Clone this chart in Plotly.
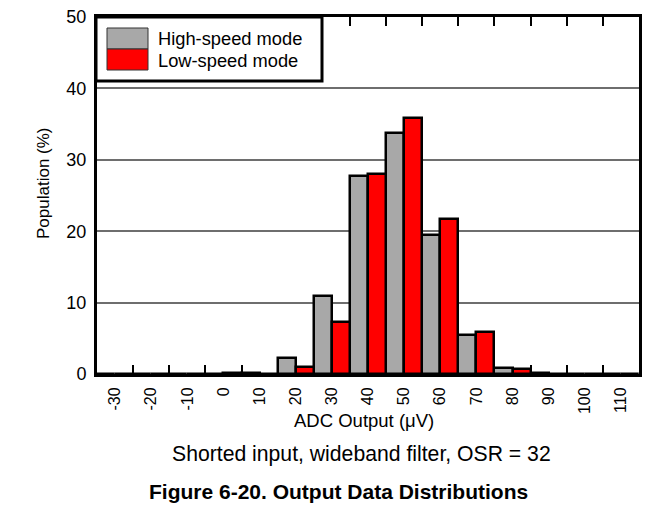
import plotly.graph_objects as go

categories = ["-30", "-20", "-10", "0", "10", "20", "30", "40", "50", "60", "70", "80", "90", "100", "110"]
high_speed = [0, 0, 0, 0, 0.2, 2.2, 10.9, 27.8, 33.8, 19.5, 5.4, 0.8, 0.1, 0, 0]
low_speed = [0, 0, 0, 0.1, 0, 1.0, 7.3, 28.0, 35.8, 21.7, 5.9, 0.7, 0, 0, 0]
y_ticks = [0, 10, 20, 30, 40, 50]

FONT = "Liberation Sans, Arial, sans-serif"
OFF = 8  # page body margin in the browser
W, H = 661 - OFF, 507 - OFF
# plot area in reference (window) pixels
L, R, T, B = 97, 639, 17, 374


def px(x):
    return (x - L) / (R - L)


def py(y):
    return (B - y) / (B - T)


fig = go.Figure()
fig.add_trace(go.Bar(x=categories, y=high_speed, name="High-speed mode",
                     marker=dict(color="#a8a8a8", line=dict(color="black", width=2.5)),
                     showlegend=False))
fig.add_trace(go.Bar(x=categories, y=low_speed, name="Low-speed mode",
                     marker=dict(color="#ff0000", line=dict(color="black", width=2.5)),
                     showlegend=False))

shapes = [
    # legend box
    dict(type="rect", xref="paper", yref="paper", x0=px(96), x1=px(322), y0=py(81), y1=py(17),
         line=dict(color="black", width=3), fillcolor="white", layer="above"),
    dict(type="rect", xref="paper", yref="paper", x0=px(107), x1=px(148), y0=py(49), y1=py(28),
         line=dict(color="#333333", width=1), fillcolor="#a8a8a8", layer="above"),
    dict(type="rect", xref="paper", yref="paper", x0=px(107), x1=px(148), y0=py(70), y1=py(49),
         line=dict(color="#333333", width=1), fillcolor="#ff0000", layer="above"),
]

annotations = [
    dict(text="High-speed mode", xref="paper", yref="paper", x=px(156), y=py(38.5),
         xanchor="left", yanchor="middle", showarrow=False, font=dict(family=FONT, size=18.3, color="black")),
    dict(text="Low-speed mode", xref="paper", yref="paper", x=px(156), y=py(60),
         xanchor="left", yanchor="middle", showarrow=False, font=dict(family=FONT, size=18.3, color="black")),
    dict(text="ADC Output (\u03bcV)", xref="paper", yref="paper", x=px(364), y=py(420),
         xanchor="center", yanchor="middle", showarrow=False, font=dict(family=FONT, size=18.5, color="black")),
    dict(text="Population (%)", xref="paper", yref="paper", x=px(43), y=py(183), textangle=-90,
         xanchor="center", yanchor="middle", showarrow=False, font=dict(family=FONT, size=17, color="black")),
    dict(text="Shorted input, wideband filter, OSR = 32", xref="paper", yref="paper", x=px(361), y=py(454),
         xanchor="center", yanchor="middle", showarrow=False, font=dict(family=FONT, size=21.2, color="black")),
    dict(text="<b>Figure 6-20. Output Data Distributions</b>", xref="paper", yref="paper", x=px(338), y=py(491),
         xanchor="center", yanchor="middle", showarrow=False, font=dict(family=FONT, size=21, color="black")),
]

fig.update_layout(
    width=W, height=H,
    margin=dict(l=L - OFF, r=661 - R, t=T - OFF, b=507 - B, pad=0, autoexpand=False),
    paper_bgcolor="white", plot_bgcolor="white",
    barmode="group", bargap=0, bargroupgap=0,
    font=dict(family=FONT, color="black"),
    shapes=shapes, annotations=annotations,
    xaxis=dict(type="category", categoryorder="array", categoryarray=categories,
               tickangle=-90, tickfont=dict(size=16, family=FONT, color="black"),
               ticks="inside", tickson="boundaries", ticklen=9, tickwidth=1.5, tickcolor="black",
               showline=True, linecolor="black", linewidth=3, mirror="ticks",
               showgrid=False, ticklabelstandoff=4, automargin=False, ticklabeloverflow="allow"),
    yaxis=dict(range=[0, 50], tickvals=y_ticks, tickfont=dict(size=18, family=FONT, color="black"),
               showline=True, linecolor="black", linewidth=3, mirror=True, ticks="",
               showgrid=True, gridcolor="#6e6e6e", gridwidth=1.5, zeroline=False,
               ticklabelstandoff=4, automargin=False, ticklabeloverflow="allow"),
)

fig.write_html("out.html")
